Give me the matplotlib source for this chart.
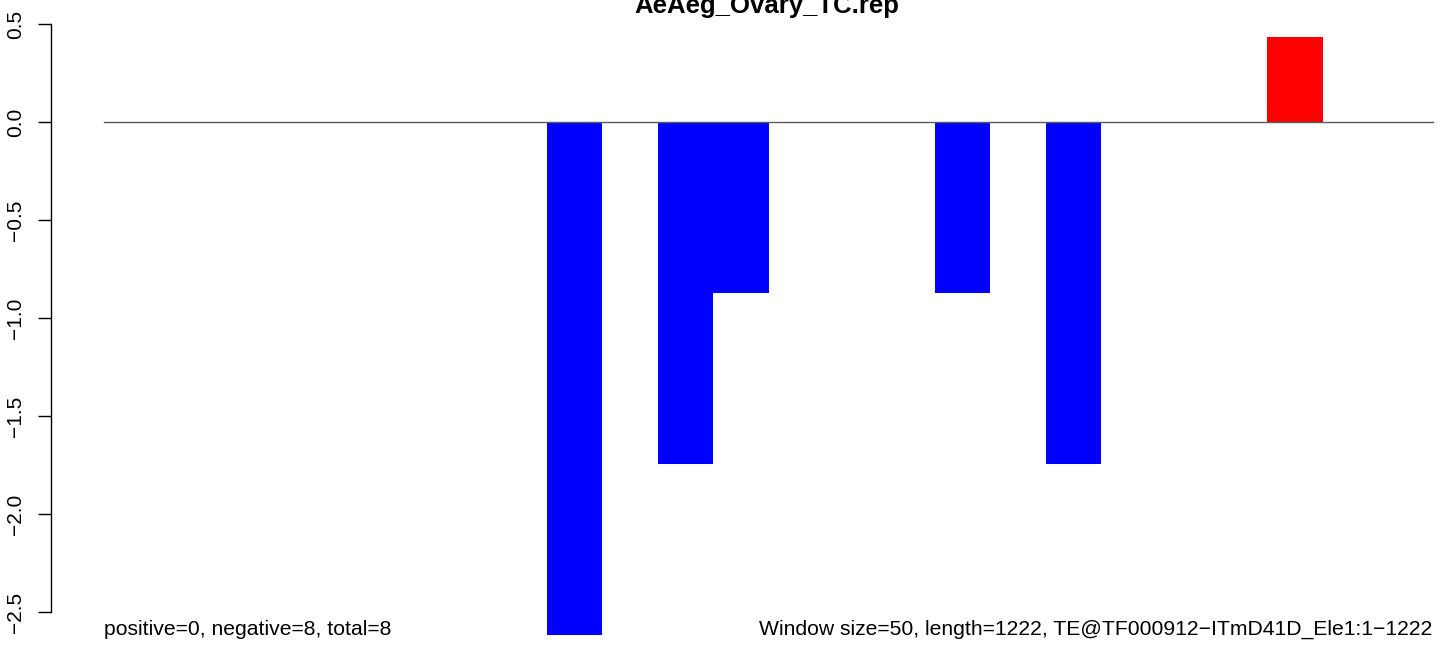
import matplotlib
matplotlib.use("Agg")
import matplotlib.pyplot as plt

plt.rcParams['font.family'] = ['Liberation Sans', 'DejaVu Sans']

title = "AeAeg_Ovary_TC.rep"
window_size = 50
window_values = [0, 0, 0, 0, 0, 0, 0, 0, -2.614, 0, -1.742, -0.871,
                 0, 0, 0, -0.871, 0, -1.742, 0, 0, 0, 0.436, 0, 0]
y_ticks = [0.5, 0.0, -0.5, -1.0, -1.5, -2.0, -2.5]
left_note = "positive=0, negative=8, total=8"
right_note = "Window size=50, length=1222, TE@TF000912\u2212ITmD41D_Ele1:1\u22121222"

W, H = 1444, 646
fig = plt.figure(figsize=(W / 100, H / 100), dpi=100)

ax_left_px, ax_right_px = 50.7, 1440
ax_top_px, ax_bot_px = 10, 640
ax = fig.add_axes([ax_left_px / W, 1 - ax_bot_px / H,
                   (ax_right_px - ax_left_px) / W, (ax_bot_px - ax_top_px) / H])

px_per_bp = 1.108
zero_x_px = 103.7
x_lo = -(zero_x_px - ax_left_px) / px_per_bp
x_hi = (ax_right_px - zero_x_px) / px_per_bp
ax.set_xlim(x_lo, x_hi)

zero_y_px = 122.3
px_per_unit = 196.0
ax.set_ylim(-(ax_bot_px - zero_y_px) / px_per_unit, (zero_y_px - ax_top_px) / px_per_unit)

starts = [i * window_size for i in range(len(window_values))]
colors = ['#0000FF' if v < 0 else '#FF0000' for v in window_values]
ax.bar(starts, window_values, width=window_size, align='edge', color=colors,
       linewidth=0, zorder=2)
ax.plot([0, len(window_values) * window_size], [0, 0], color='#5a5a5a', lw=1.0, zorder=3)

for s in ['top', 'right', 'bottom']:
    ax.spines[s].set_visible(False)
ax.spines['left'].set_bounds(min(y_ticks), max(y_ticks))
ax.spines['left'].set_linewidth(1.0)
ax.set_xticks([])
ax.set_yticks(y_ticks)
ax.set_yticklabels([f"{t:.1f}".replace('-', '\u2212') for t in y_ticks],
                   rotation=90, va='center', fontsize=15)
ax.tick_params(axis='y', length=9.6, width=1.0, pad=9)

fig.text(767 / W, 1 - 13 / H, title, ha='center', va='baseline',
         fontsize=18.5, fontweight='bold')
fig.text(zero_x_px / W, 1 - 635 / H, left_note, ha='left', va='baseline', fontsize=15.2)
fig.text(1432.3 / W, 1 - 635 / H, right_note, ha='right', va='baseline', fontsize=15.2)

fig.savefig("out.png", dpi=100)
